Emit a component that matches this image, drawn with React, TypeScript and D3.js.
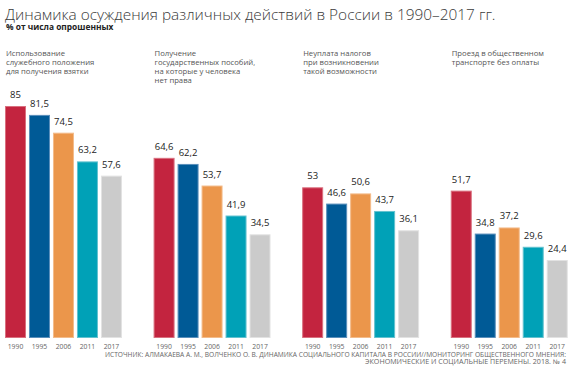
import React, { useEffect, useRef } from 'react';
import * as d3 from 'd3';

const categories = [
    ['Использование', 'служебного положения', 'для получения взятки'],
    ['Получение', 'государственных пособий,', 'на которые у человека', 'нет права'],
    ['Неуплата налогов', 'при возникновении', 'такой возможности'],
    ['Проезд в общественном', 'транспорте без оплаты'],
];
const years = ['1990', '1995', '2006', '2011', '2017'];
const values = [
    [85, 81.5, 74.5, 63.2, 57.6],
    [64.6, 62.2, 53.7, 41.9, 34.5],
    [53, 46.6, 50.6, 43.7, 36.1],
    [51.7, 34.8, 37.2, 29.6, 24.4],
];
const colors = ['#c3243f', '#005a96', '#eb964b', '#00a1b7', '#cbcbcb'];
const strokes = ['#d9707f', '#5a8fbb', '#f3bb8a', '#63c2cf', '#e2e2e2'];
const sourceLines = [
    'ИСТОЧНИК: АЛМАКАЕВА А. М., ВОЛЧЕНКО О. В. ДИНАМИКА СОЦИАЛЬНОГО КАПИТАЛА В РОССИИ//МОНИТОРИНГ ОБЩЕСТВЕННОГО МНЕНИЯ:',
    'ЭКОНОМИЧЕСКИЕ И СОЦИАЛЬНЫЕ ПЕРЕМЕНЫ. 2018. № 4',
];
const sourceWidths = [461, 201];

const App: React.FC = () => {
    const svgRef = useRef<SVGSVGElement | null>(null);

    useEffect(() => {
        const width = 570;
        const height = 373;
        const font = '"Open Sans", "Noto Sans", sans-serif';
        document.body.style.margin = '0';

        const svg = d3.select(svgRef.current)
            .attr('width', width)
            .attr('height', height)
            .style('display', 'block')
            .style('font-family', font);
        svg.selectAll('*').remove();

        const x0 = d3.scaleBand<number>()
            .domain(d3.range(categories.length))
            .range([5, 567.7])
            .paddingInner(0.213)
            .paddingOuter(0);

        const x1 = d3.scaleBand<string>()
            .domain(years)
            .range([0, x0.bandwidth()])
            .paddingInner(0.125);

        // нижний край столбцов чуть ниже нуля
        const y = d3.scaleLinear()
            .domain([-6.3, 85])
            .range([338, 106]);

        // заголовок
        svg.append('text')
            .attr('x', 5)
            .attr('y', 20)
            .attr('fill', '#3a3a3a')
            .style('font-size', '15.4px')
            .style('font-weight', 300)
            .text('Динамика осуждения различных действий в России в 1990–2017 гг.');

        svg.append('text')
            .attr('x', 6)
            .attr('y', 29.5)
            .attr('fill', '#222')
            .style('font-size', '8.4px')
            .style('font-weight', 700)
            .text('% от числа опрошенных');

        const groups = svg.selectAll('g.group')
            .data(values)
            .enter()
            .append('g')
            .attr('class', 'group')
            .attr('transform', (_, i) => `translate(${x0(i)},0)`);

        groups.each(function (_, i) {
            const lines = d3.select(this).append('text')
                .attr('fill', '#555')
                .style('font-size', '7.7px');
            lines.selectAll('tspan')
                .data(categories[i])
                .enter()
                .append('tspan')
                .attr('x', 1)
                .attr('y', (_, j) => 56 + j * 9.1)
                .text(d => d);
        });

        const bars = groups.selectAll('g.bar')
            .data(d => d.map((v, j) => ({ v, year: years[j], j })))
            .enter()
            .append('g')
            .attr('class', 'bar');

        bars.append('rect')
            .attr('x', d => (x1(d.year) ?? 0) + 0.5)
            .attr('y', d => y(d.v) + 0.5)
            .attr('width', x1.bandwidth() - 1)
            .attr('height', d => y(y.domain()[0]) - y(d.v) - 1)
            .attr('fill', d => colors[d.j])
            .attr('stroke', d => strokes[d.j])
            .attr('stroke-width', 1);

        bars.append('text')
            .attr('x', d => (x1(d.year) ?? 0) + x1.bandwidth() / 2)
            .attr('y', d => y(d.v) - 8)
            .attr('text-anchor', 'middle')
            .attr('fill', '#222')
            .style('font-size', '9.5px')
            .text(d => String(d.v).replace('.', ','));

        bars.append('text')
            .attr('x', d => (x1(d.year) ?? 0) + x1.bandwidth() / 2)
            .attr('y', 348.5)
            .attr('text-anchor', 'middle')
            .attr('fill', '#666')
            .style('font-size', '6.8px')
            .text(d => d.year);

        svg.selectAll('text.source')
            .data(sourceLines)
            .enter()
            .append('text')
            .attr('class', 'source')
            .attr('x', 566)
            .attr('y', (_, i) => 356.5 + i * 7.5)
            .attr('text-anchor', 'end')
            .attr('fill', '#666')
            .attr('textLength', (_, i) => sourceWidths[i])
            .attr('lengthAdjust', 'spacingAndGlyphs')
            .style('font-size', '6.4px')
            .text(d => d);
    }, []);

    return <svg ref={svgRef}></svg>;
};

export default App;
